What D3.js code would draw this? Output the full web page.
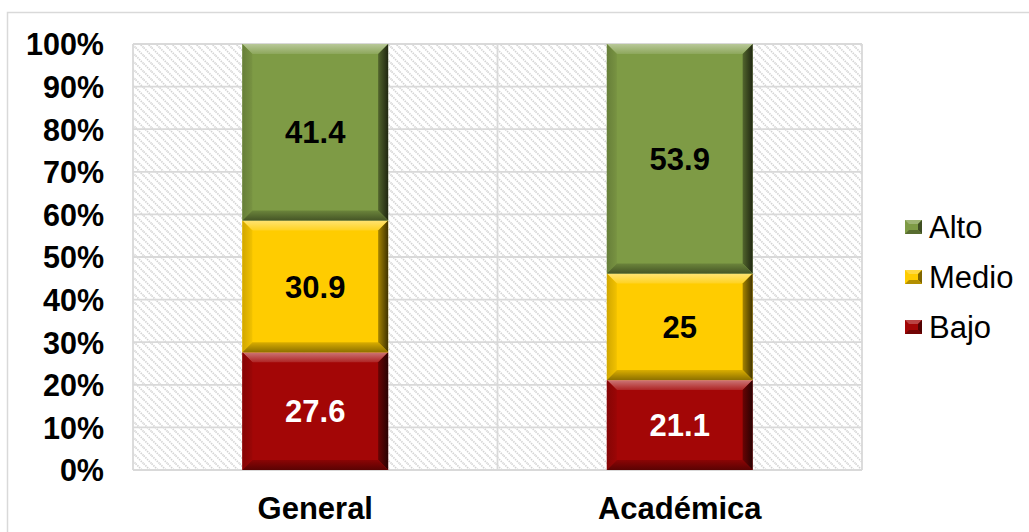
<!DOCTYPE html>
<html>
<head>
<meta charset="utf-8">
<script src="https://cdn.jsdelivr.net/npm/d3@7"></script>
<style>
  html, body { margin: 0; padding: 0; background: #fff; }
  svg { display: block; font-family: "Liberation Sans", Arial, sans-serif; }
</style>
</head>
<body>
<svg id="chart" width="1029" height="532"></svg>
<script>
const categories = ["General", "Académica"];
const seriesNames = ["Bajo", "Medio", "Alto"];
const bajo  = [27.6, 21.1];
const medio = [30.9, 25];
const alto  = [41.4, 53.9];
const seriesColors = ["#a30606", "#ffcc00", "#7e9b45"];
const labelColors = ["#ffffff", "#000000", "#000000"];
const yTicks = [0, 0.1, 0.2, 0.3, 0.4, 0.5, 0.6, 0.7, 0.8, 0.9, 1.0];
const legendOrder = ["Alto", "Medio", "Bajo"];

const rows = categories.map((c, i) => ({ cat: c, Bajo: bajo[i], Medio: medio[i], Alto: alto[i] }));
const stacked = d3.stack().keys(seriesNames).offset(d3.stackOffsetExpand)(rows);

const svg = d3.select("#chart");
const W = 1029, H = 532;
const plot = { left: 133, right: 862, top: 44, bottom: 470 };

const x = d3.scaleBand().domain(categories).range([plot.left, plot.right]).paddingInner(0.6).paddingOuter(0.3);
const y = d3.scaleLinear().domain([0, 1]).range([plot.bottom, plot.top]);
const color = d3.scaleOrdinal().domain(seriesNames).range(seriesColors);

function mix(c, t, a) { return d3.interpolateRgb(c, t)(a); }

const defs = svg.append("defs");
const pat = defs.append("pattern").attr("id", "hatch").attr("patternUnits", "userSpaceOnUse")
  .attr("width", 8).attr("height", 8);
pat.append("rect").attr("width", 8).attr("height", 8).attr("fill", "#ffffff");
pat.append("path").attr("d", "M-2,-2 L10,10 M-2,6 L2,10 M6,-2 L10,2")
  .attr("stroke", "#d3d3d3").attr("stroke-width", 1.7).attr("stroke-dasharray", "1.4,1");

// bevel gradients per series
function grad(id, x1, y1, x2, y2, stops) {
  const g = defs.append("linearGradient").attr("id", id)
    .attr("x1", x1).attr("y1", y1).attr("x2", x2).attr("y2", y2);
  stops.forEach(s => g.append("stop").attr("offset", s[0]).attr("stop-color", s[1]));
}
seriesNames.forEach(k => {
  const b = color(k);
  grad("top-" + k, 0, 0, 0, 1, [[0, mix(b, "#fff", 0.45)], [1, mix(b, "#fff", 0.12)]]);
  grad("bot-" + k, 0, 0, 0, 1, [[0, mix(b, "#000", 0.15)], [1, mix(b, "#000", 0.45)]]);
  grad("right-" + k, 0, 0, 1, 0, [[0, mix(b, "#000", 0.35)], [1, mix(b, "#000", 0.75)]]);
  grad("left-" + k, 0, 0, 1, 0, [[0, mix(b, "#000", 0.18)], [1, mix(b, "#000", 0.05)]]);
});

// outer chart border
svg.append("rect").attr("x", 7.5).attr("y", 12.5).attr("width", W + 10).attr("height", H + 10)
  .attr("fill", "none").attr("stroke", "#d9d9d9").attr("stroke-width", 1.5);

// plot background
svg.append("rect").attr("x", plot.left).attr("y", plot.top)
  .attr("width", plot.right - plot.left).attr("height", plot.bottom - plot.top)
  .attr("fill", "url(#hatch)");

// horizontal gridlines
svg.append("g").selectAll("line").data(yTicks).join("line")
  .attr("x1", plot.left).attr("x2", plot.right)
  .attr("y1", d => y(d)).attr("y2", d => y(d))
  .attr("stroke", "#d9d9d9").attr("stroke-width", 1.8);

// vertical gridlines at band boundaries
const step = x.step();
const bounds = d3.range(categories.length + 1).map(i => plot.left + i * step);
svg.append("g").selectAll("line").data(bounds).join("line")
  .attr("x1", d => d).attr("x2", d => d)
  .attr("y1", plot.top).attr("y2", plot.bottom)
  .attr("stroke", "#d9d9d9").attr("stroke-width", 1.8);

// bars with bevel
const bw = 10;
const barG = svg.append("g");
stacked.forEach(layer => {
  const key = layer.key;
  const base = color(key);
  layer.forEach((d, i) => {
    const x0 = x(categories[i]), x1 = x0 + x.bandwidth();
    const y0 = y(d[1]), y1 = y(d[0]);
    const g = barG.append("g");
    g.append("rect").attr("x", x0).attr("y", y0).attr("width", x1 - x0).attr("height", y1 - y0).attr("fill", base);
    g.append("path").attr("d", `M${x0},${y0} L${x1},${y0} L${x1 - bw},${y0 + bw} L${x0 + bw},${y0 + bw} Z`)
      .attr("fill", `url(#top-${key})`);
    g.append("path").attr("d", `M${x0},${y0} L${x0 + bw},${y0 + bw} L${x0 + bw},${y1 - bw} L${x0},${y1} Z`)
      .attr("fill", `url(#left-${key})`);
    g.append("path").attr("d", `M${x1},${y0} L${x1},${y1} L${x1 - bw},${y1 - bw} L${x1 - bw},${y0 + bw} Z`)
      .attr("fill", `url(#right-${key})`);
    g.append("path").attr("d", `M${x0},${y1} L${x1},${y1} L${x1 - bw},${y1 - bw} L${x0 + bw},${y1 - bw} Z`)
      .attr("fill", `url(#bot-${key})`);
  });
});

// data labels
const valuesBy = { Bajo: bajo, Medio: medio, Alto: alto };
stacked.forEach((layer, li) => {
  layer.forEach((d, i) => {
    svg.append("text")
      .attr("x", x(categories[i]) + x.bandwidth() / 2)
      .attr("y", (y(d[0]) + y(d[1])) / 2)
      .attr("dy", "0.36em")
      .attr("text-anchor", "middle")
      .attr("font-size", 31).attr("font-weight", "bold")
      .attr("fill", labelColors[li])
      .text(String(valuesBy[layer.key][i]));
  });
});

// y axis
const yAxis = d3.axisLeft(y).tickValues(yTicks).tickFormat(d3.format(".0%")).tickSize(0).tickPadding(0);
const ya = svg.append("g").attr("transform", `translate(104,0)`).call(yAxis);
ya.select(".domain").remove();
ya.selectAll("text").attr("font-size", 30.5).attr("font-weight", "bold").attr("fill", "#000")
  .attr("font-family", "'Liberation Sans', Arial, sans-serif").attr("dy", "0.36em");

// x axis
const xAxis = d3.axisBottom(x).tickSize(0).tickPadding(0);
const xa = svg.append("g").attr("transform", `translate(0,${plot.bottom})`).call(xAxis);
xa.select(".domain").remove();
xa.selectAll("text").attr("font-size", 31).attr("font-weight", "bold").attr("fill", "#000")
  .attr("font-family", "'Liberation Sans', Arial, sans-serif").attr("y", 49).attr("dy", 0);

// legend
const legY = d3.scalePoint().domain(legendOrder).range([227, 327]);
const lg = svg.append("g");
legendOrder.forEach(k => {
  const cy = legY(k);
  const base = color(k);
  const mx = 905, mw = 17, mh = 14, my = cy - mh / 2, b = 4;
  lg.append("rect").attr("x", mx).attr("y", my).attr("width", mw).attr("height", mh).attr("fill", base);
  lg.append("path").attr("d", `M${mx},${my} L${mx + mw},${my} L${mx + mw - b},${my + b} L${mx + b},${my + b} Z`).attr("fill", mix(base, "#fff", 0.25));
  lg.append("path").attr("d", `M${mx + mw},${my} L${mx + mw},${my + mh} L${mx + mw - b},${my + mh - b} L${mx + mw - b},${my + b} Z`).attr("fill", mix(base, "#000", 0.5));
  lg.append("path").attr("d", `M${mx},${my + mh} L${mx + mw},${my + mh} L${mx + mw - b},${my + mh - b} L${mx + b},${my + mh - b} Z`).attr("fill", mix(base, "#000", 0.3));
  lg.append("text").attr("x", 929).attr("y", cy).attr("dy", "0.36em")
    .attr("font-size", 31).attr("fill", "#000").text(k);
});
</script>
</body>
</html>
